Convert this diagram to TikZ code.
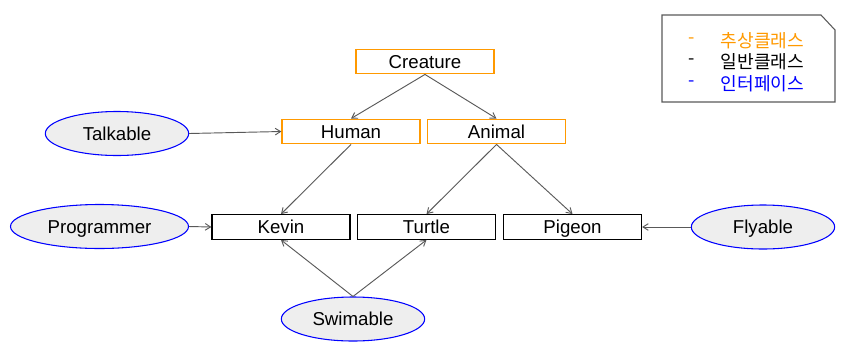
\documentclass[tikz,border=0pt]{standalone}
\usepackage{fontspec}
\setmainfont{Liberation Sans}
\newfontfamily\krfont{Noto Sans CJK KR}
\usetikzlibrary{arrows.meta,shapes.geometric}
\definecolor{absorange}{HTML}{FF9900}
\definecolor{ifblue}{HTML}{0000FF}
\definecolor{ifill}{HTML}{EEEEEE}
\definecolor{arrgray}{HTML}{595959}
\definecolor{legline}{HTML}{595959}
\begin{document}
\begin{tikzpicture}[x=0.75pt,y=-0.75pt,
  font=\fontsize{14}{16}\selectfont,
  cls/.style={draw, line width=0.9pt, rectangle, inner sep=0pt, text height=10pt, text depth=0pt, minimum width=103.5pt, minimum height=18.5pt},
  abscls/.style={cls, draw=absorange},
  conccls/.style={cls, draw=black},
  iface/.style={draw=ifblue, fill=ifill, line width=0.8pt, ellipse, inner sep=0pt, text height=10pt, text depth=0pt, minimum width=107.5pt, minimum height=33pt},
  conn/.style={draw=arrgray, line width=0.7pt, -{Straight Barb[length=4pt,width=5pt]}},
  legtxt/.style={anchor=west, inner sep=0pt, font=\fontsize{13.6}{16}\selectfont\krfont}
]
\useasboundingbox (0,0) rectangle (848,361);
% class nodes
\node[abscls] (cre) at (425,61.5) {Creature};
\node[abscls] (hum) at (351,131.5) {Human};
\node[abscls] (ani) at (496.5,131.5) {Animal};
\node[conccls] (kev) at (281,227) {Kevin};
\node[conccls] (tur) at (426.5,227) {Turtle};
\node[conccls] (pig) at (572.5,227) {Pigeon};
% interfaces
\node[iface] (tal) at (117,133.5) {Talkable};
\node[iface, minimum width=133.5pt] (pro) at (99.5,226.5) {Programmer};
\node[iface] (fly) at (763,227) {Flyable};
\node[iface] (swi) at (353,319) {Swimable};
% connectors
\draw[conn] (cre.south) -- (hum.north);
\draw[conn] (cre.south) -- (ani.north);
\draw[conn] (hum.south) -- (kev.north);
\draw[conn] (ani.south) -- (tur.north);
\draw[conn] (ani.south) -- (pig.north);
\draw[conn] (tal.east) -- (hum.west);
\draw[conn] (pro.east) -- (kev.west);
\draw[conn] (fly.west) -- (pig.east);
\draw[conn] (swi.north) -- (kev.south);
\draw[conn] (swi.north) -- (tur.south);
% legend
\draw[legline, line width=0.8pt] (662,15) -- (821,15) -- (835,30) -- (835,102) -- (662,102) -- cycle;
\node[legtxt, text=absorange] (d1) at (688,40.5) {-};
\node[legtxt, text=absorange] (l1) at (720.5,40.5) {추상클래스};
\node[legtxt, text=black] (d2) at (688,62) {-};
\node[legtxt, text=black] (l2) at (720.5,62) {일반클래스};
\node[legtxt, text=ifblue] (d3) at (688,84) {-};
\node[legtxt, text=ifblue] (l3) at (720.5,84) {인터페이스};
\end{tikzpicture}
\end{document}
